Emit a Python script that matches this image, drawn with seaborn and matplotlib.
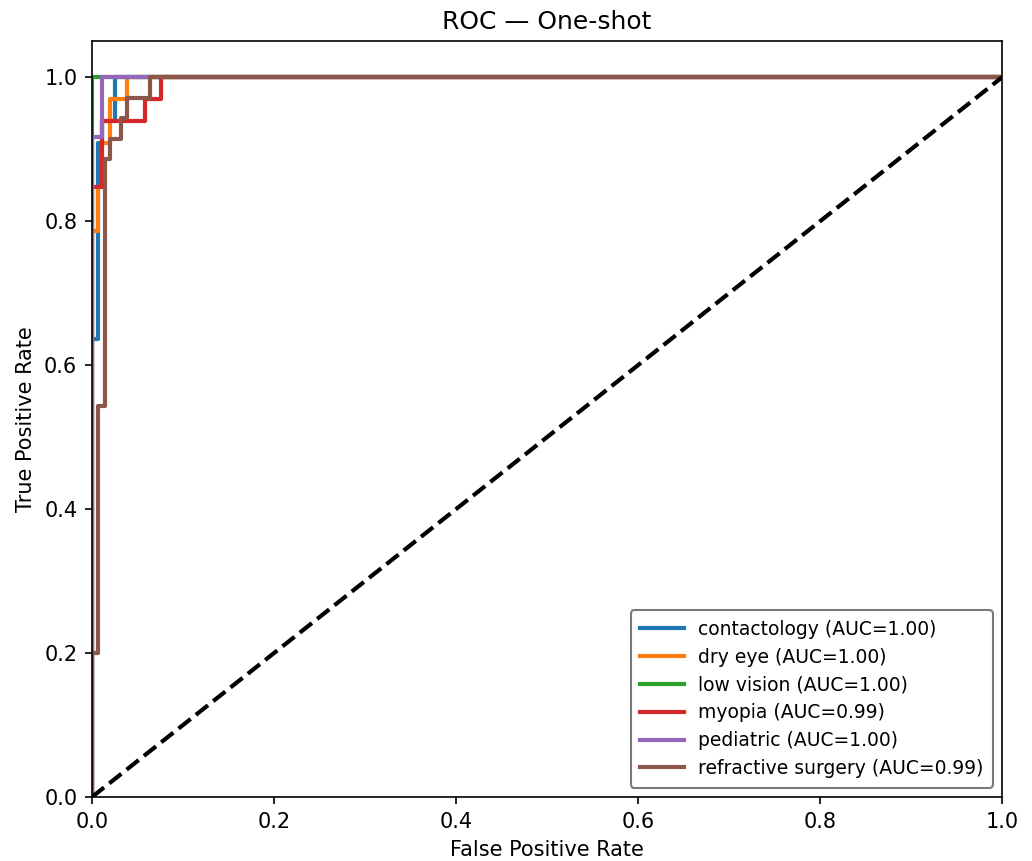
import numpy as np
import pandas as pd
import seaborn as sns
import matplotlib
matplotlib.use("Agg")
import matplotlib.pyplot as plt

# ROC points (step curves)
classes = ["contactology", "dry eye", "low vision", "myopia", "pediatric", "refractive surgery"]
auc_values = [1.00, 1.00, 1.00, 0.99, 1.00, 0.99]

fpr_contactology = [0, 0, 0.0064, 0.0064, 0.0114, 0.0114, 0.0249, 0.0249, 1]
tpr_contactology = [0, 0.636, 0.636, 0.909, 0.909, 0.939, 0.939, 1, 1]

fpr_dry_eye = [0, 0, 0.0064, 0.0064, 0.0114, 0.0114, 0.0194, 0.0194, 0.0385, 0.0385, 1]
tpr_dry_eye = [0, 0.787, 0.787, 0.848, 0.848, 0.909, 0.909, 0.970, 0.970, 1, 1]

fpr_low_vision = [0, 0, 1]
tpr_low_vision = [0, 1, 1]

fpr_myopia = [0, 0, 0.0114, 0.0114, 0.058, 0.058, 0.0755, 0.0755, 1]
tpr_myopia = [0, 0.848, 0.848, 0.939, 0.939, 0.970, 0.970, 1, 1]

fpr_pediatric = [0, 0, 0.0114, 0.0114, 1]
tpr_pediatric = [0, 0.917, 0.917, 1, 1]

fpr_refractive = [0, 0, 0.0064, 0.0064, 0.0143, 0.0143, 0.0194, 0.0194, 0.0316, 0.0316,
                  0.038, 0.038, 0.0637, 0.0637, 1]
tpr_refractive = [0, 0.2, 0.2, 0.543, 0.543, 0.886, 0.886, 0.914, 0.914, 0.943,
                  0.943, 0.971, 0.971, 1, 1]

fprs = [fpr_contactology, fpr_dry_eye, fpr_low_vision, fpr_myopia, fpr_pediatric, fpr_refractive]
tprs = [tpr_contactology, tpr_dry_eye, tpr_low_vision, tpr_myopia, tpr_pediatric, tpr_refractive]

rows = []
for name, auc, f, t in zip(classes, auc_values, fprs, tprs):
    label = f"{name} (AUC={auc:.2f})"
    for i, (x, y) in enumerate(zip(f, t)):
        rows.append({"label": label, "order": i, "fpr": x, "tpr": y})
df = pd.DataFrame(rows)
labels = [f"{n} (AUC={a:.2f})" for n, a in zip(classes, auc_values)]

fig, ax = plt.subplots(figsize=(1032 / 150, 861 / 150), dpi=150)
fig.subplots_adjust(left=0.0891, right=0.971, bottom=0.0743, top=0.952)

sns.lineplot(data=df, x="fpr", y="tpr", hue="label", hue_order=labels,
             palette="tab10", sort=False, estimator=None, units="label",
             linewidth=2, ax=ax)
ax.plot([0, 1], [0, 1], "k--", linewidth=2)

ax.set_xlim(0, 1)
ax.set_ylim(0, 1.05)
ax.set_xlabel("False Positive Rate")
ax.set_ylabel("True Positive Rate")
ax.set_title("ROC — One-shot", fontsize=12)
leg = ax.legend(loc="lower right", fontsize=9, borderpad=0.52, labelspacing=0.47,
                handlelength=2.3, handletextpad=0.75)
leg.get_frame().set_edgecolor("0.35")

fig.savefig("out.png", dpi=150)
